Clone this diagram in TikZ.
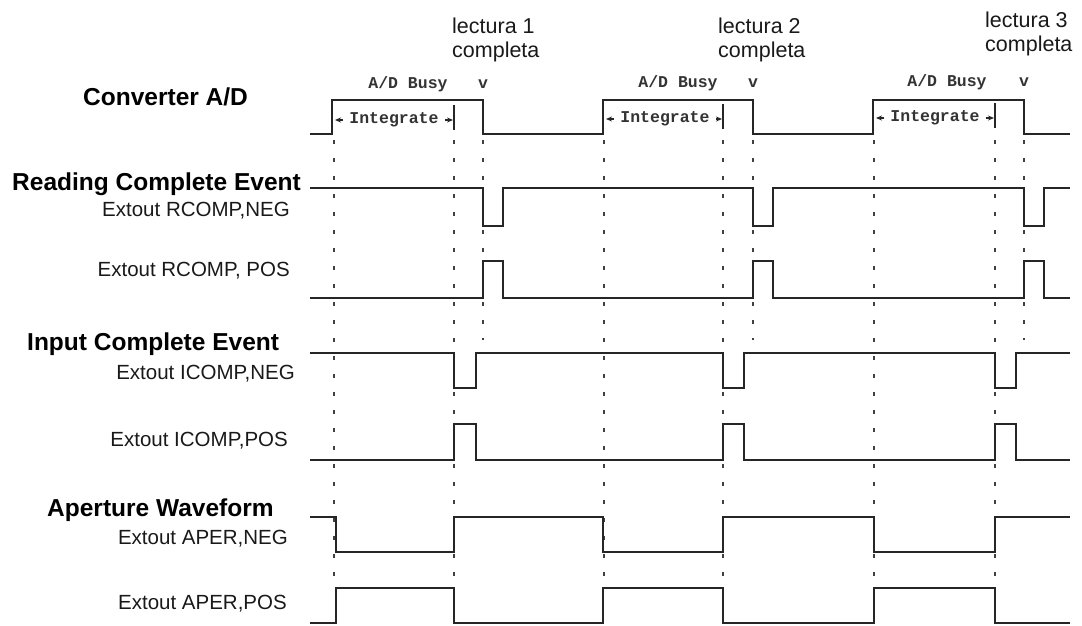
\documentclass[tikz,border=0pt]{standalone}
\usepackage{fontspec}
\setmainfont{Liberation Sans}
\newfontfamily\monofont{Liberation Mono}
\usetikzlibrary{arrows.meta}
\begin{document}
\begin{tikzpicture}[x=1pt,y=-1pt,
  wave/.style={draw=black!85,line width=1.8pt,line join=miter},
  guide/.style={draw=black!75,line width=1.5pt,dash pattern=on 4pt off 14pt},
  title/.style={font=\fontsize{24.5}{28}\selectfont\bfseries,inner sep=0pt},
  sig/.style={font=\fontsize{20.5}{24}\selectfont,inner sep=0pt,text=black!90},
  mono/.style={font=\monofont\fontsize{16.5}{18}\selectfont\bfseries,inner sep=0pt,text=black!80},
  note/.style={font=\fontsize{21.5}{24}\selectfont,inner sep=0pt,align=left,text=black!90},
  intarrow/.style={draw=black!85,line width=1.2pt,-{Stealth[length=6pt,width=5pt]}},
  intbar/.style={draw=black!85,line width=1.6pt}]
\useasboundingbox (0,0) rectangle (1082,625);
\clip (0,0) rectangle (1082,625);

% dotted timing guides
\foreach \gx in {334,604,874,454,723,995}
  \draw[guide] (\gx,140) -- (\gx,585);
\foreach \gx in {483,753,1024}
  \draw[guide] (\gx,140) -- (\gx,340);

% signal titles
\node[title,anchor=base west] (tAD) at (83,105) {Converter A/D};
\node[title,anchor=base west] (tRC) at (12,190) {Reading Complete Event};
\node[title,anchor=base west] (tIC) at (27,350) {Input Complete Event};
\node[title,anchor=base west] (tAP) at (47,516) {Aperture Waveform};

\node[sig,anchor=base east] (lRN) at (290,216) {Extout RCOMP,NEG};
\node[sig,anchor=base east] (lRP) at (290,276) {Extout RCOMP, POS};
\node[sig,anchor=base east] (lIN) at (295,379) {Extout ICOMP,NEG};
\node[sig,anchor=base east] (lIP) at (288,446) {Extout ICOMP,POS};
\node[sig,anchor=base east] (lAN) at (288,544) {Extout APER,NEG};
\node[sig,anchor=base east] (lAP) at (287,609) {Extout APER,POS};

% reading-complete notes (anchored on the baseline of the second line)
\node[note,anchor=base west] (r1) at (452,57) {lectura 1\\completa};
\node[note,anchor=base west] (r2) at (718,57) {lectura 2\\completa};
\node[note,anchor=base west] (r3) at (985,51) {lectura 3\\completa};

% A/D converter
\draw[wave] (310,134) -- (332,134) -- (332,100) -- (483,100) -- (483,134)
  -- (603,134) -- (603,100) -- (753,100) -- (753,134)
  -- (873,134) -- (873,100) -- (1024,100) -- (1024,134) -- (1070,134);

\node[mono] (b1) at (408,84) {A/D Busy};
\node[mono] (b2) at (678,83) {A/D Busy};
\node[mono] (b3) at (947,82) {A/D Busy};
\node[mono] (v1) at (483,84) {v};
\node[mono] (v2) at (753,83) {v};
\node[mono] (v3) at (1024,82) {v};

\node[mono,inner xsep=6pt] (i1) at (394,120) {Integrate};
\node[mono,inner xsep=6pt] (i2) at (665,119) {Integrate};
\node[mono,inner xsep=6pt] (i3) at (935,118) {Integrate};
\coordinate (i1l) at (335,120); \coordinate (i1r) at (453,120);
\coordinate (i2l) at (606,119); \coordinate (i2r) at (722,119);
\coordinate (i3l) at (876,118); \coordinate (i3r) at (994,118);
\draw[intarrow] (i1.west) -- (i1l); \draw[intarrow] (i1.east) -- (i1r);
\draw[intarrow] (i2.west) -- (i2l); \draw[intarrow] (i2.east) -- (i2r);
\draw[intarrow] (i3.west) -- (i3l); \draw[intarrow] (i3.east) -- (i3r);
\draw[intbar] (454,105) -- (454,130);
\draw[intbar] (723,104) -- (723,129);
\draw[intbar] (995,103) -- (995,128);

% reading complete event
\draw[wave] (310,188) -- (483,188) -- (483,226) -- (503,226) -- (503,188)
  -- (753,188) -- (753,226) -- (773,226) -- (773,188)
  -- (1024,188) -- (1024,226) -- (1044,226) -- (1044,188) -- (1070,188);
\draw[wave] (310,298) -- (483,298) -- (483,261) -- (503,261) -- (503,298)
  -- (753,298) -- (753,261) -- (773,261) -- (773,298)
  -- (1024,298) -- (1024,261) -- (1044,261) -- (1044,298) -- (1070,298);

% input complete event
\draw[wave] (310,353) -- (454,353) -- (454,388) -- (476,388) -- (476,353)
  -- (723,353) -- (723,388) -- (744,388) -- (744,353)
  -- (995,353) -- (995,388) -- (1016,388) -- (1016,353) -- (1070,353);
\draw[wave] (310,460) -- (454,460) -- (454,424) -- (476,424) -- (476,460)
  -- (723,460) -- (723,424) -- (744,424) -- (744,460)
  -- (995,460) -- (995,424) -- (1016,424) -- (1016,460) -- (1070,460);

% aperture waveform
\draw[wave] (310,517) -- (336,517) -- (336,552) -- (454,552) -- (454,517)
  -- (603,517) -- (603,552) -- (723,552) -- (723,517)
  -- (874,517) -- (874,552) -- (995,552) -- (995,517) -- (1070,517);
\draw[wave] (310,623) -- (336,623) -- (336,588) -- (454,588) -- (454,623)
  -- (603,623) -- (603,588) -- (723,588) -- (723,623)
  -- (874,623) -- (874,588) -- (995,588) -- (995,623) -- (1070,623);
\end{tikzpicture}
\end{document}
